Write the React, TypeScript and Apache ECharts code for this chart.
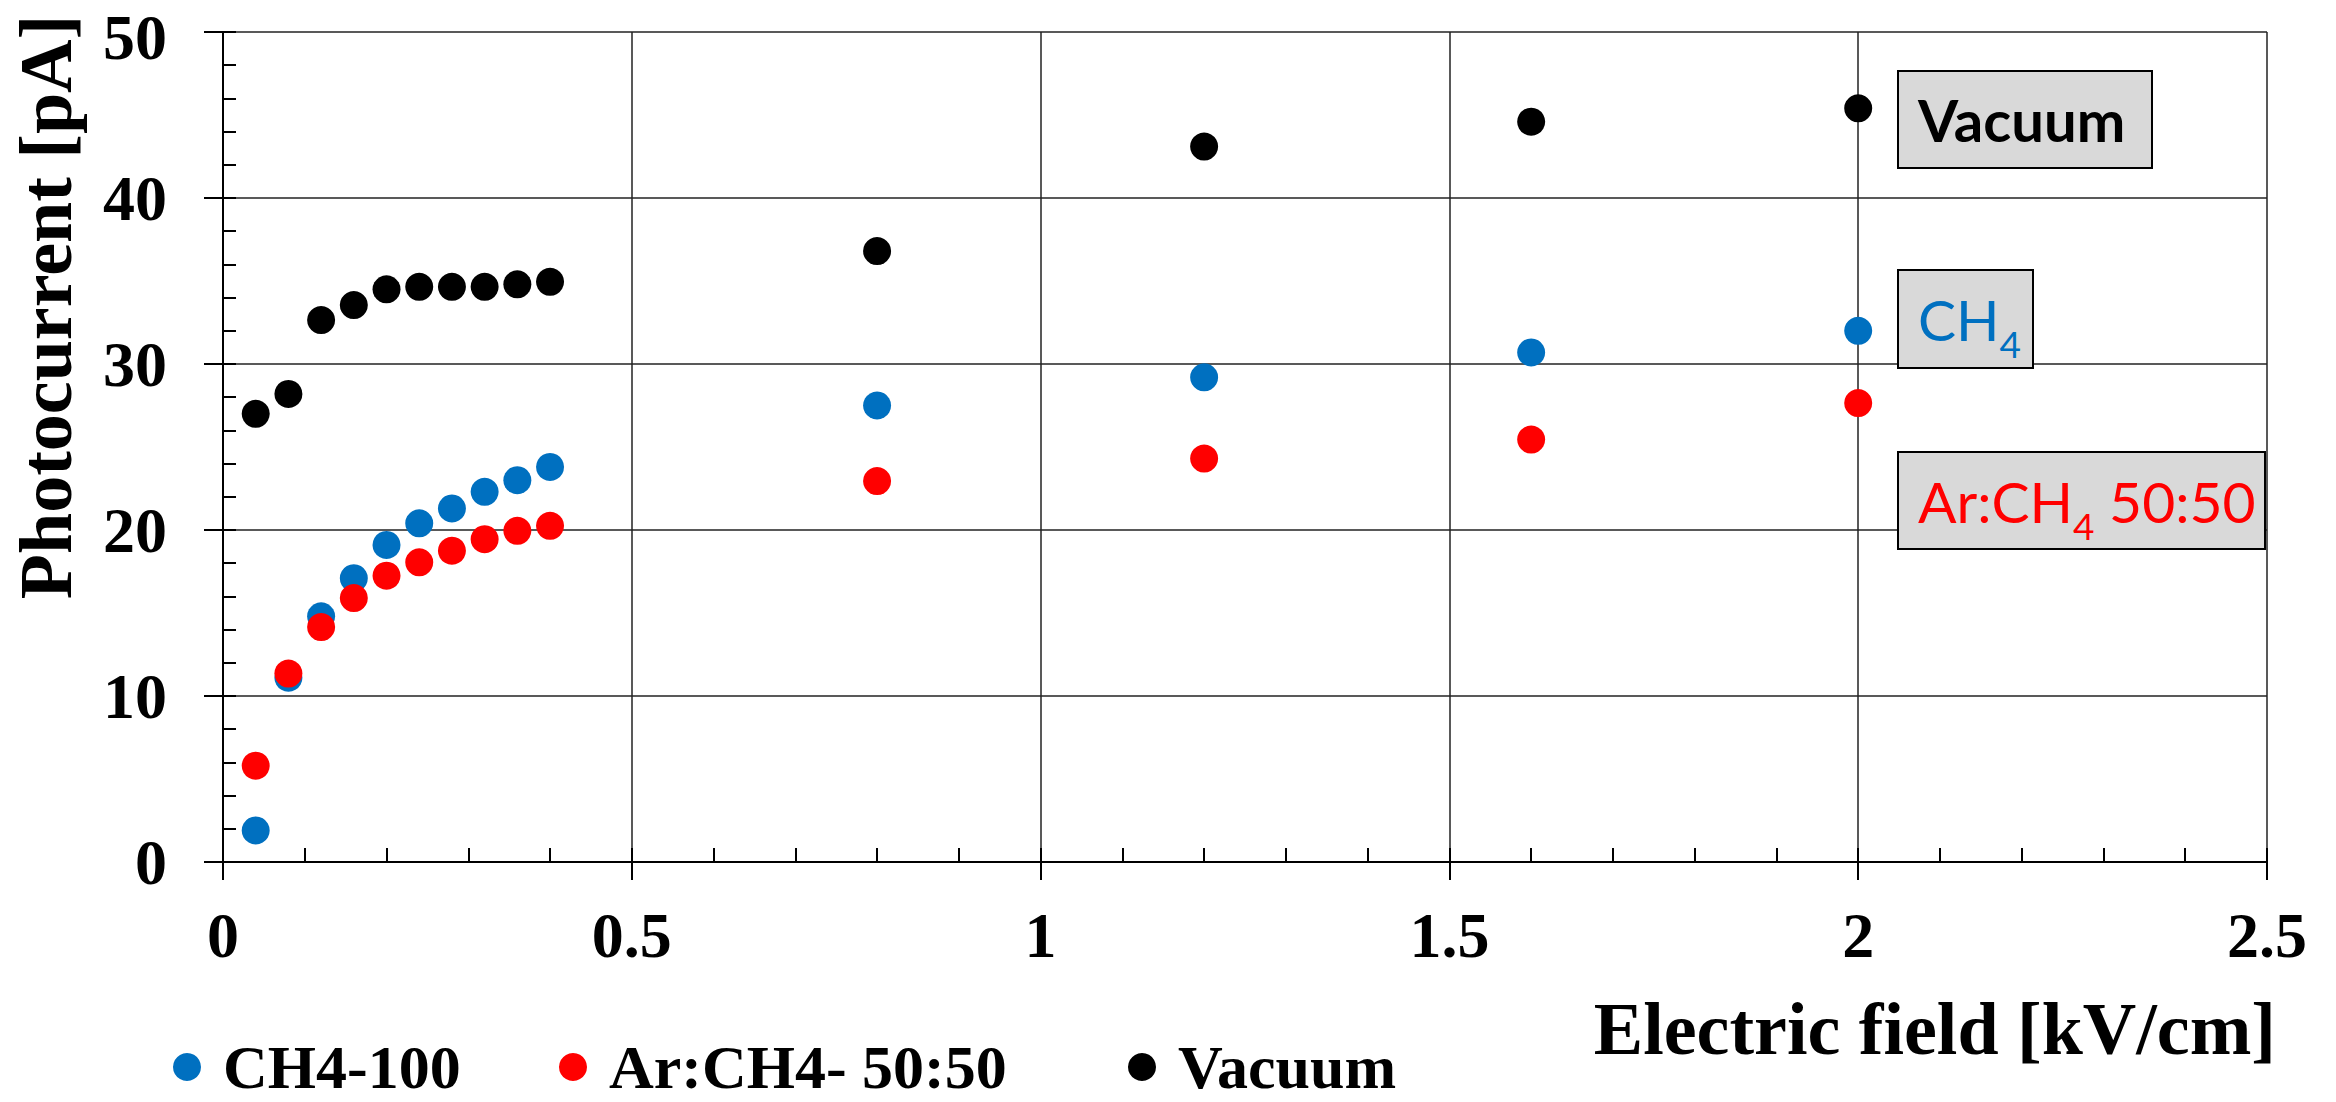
import React, { useEffect, useRef } from 'react';
import * as echarts from 'echarts';

// Electric field values [kV/cm] at which photocurrent was measured
const fieldKVcm = [0.04, 0.08, 0.12, 0.16, 0.2, 0.24, 0.28, 0.32, 0.36, 0.4, 0.8, 1.2, 1.6, 2.0];
// Photocurrent [pA]
const ch4Values = [1.9, 11.1, 14.8, 17.1, 19.1, 20.4, 21.3, 22.3, 23.0, 23.8, 27.5, 29.2, 30.7, 32.0];
const arCh4Values = [5.8, 11.35, 14.15, 15.9, 17.25, 18.05, 18.75, 19.45, 19.95, 20.25, 22.95, 24.3, 25.45, 27.65];
const vacuumValues = [27.0, 28.2, 32.65, 33.55, 34.5, 34.65, 34.65, 34.65, 34.8, 34.95, 36.8, 43.1, 44.6, 45.4];

const seriesNames = ['CH4-100', 'Ar:CH4- 50:50', 'Vacuum'];
const seriesColors = ['#0070C0', '#FF0000', '#000000'];
const seriesValues = [ch4Values, arCh4Values, vacuumValues];

const xAxisTitle = 'Electric field [kV/cm]';
const yAxisTitle = 'Photocurrent [pA]';

const SERIF = '"Liberation Serif", "Times New Roman", serif';
const SANS = 'Lato, "Open Sans", sans-serif';

export default function App() {
  const ref = useRef<HTMLDivElement>(null);

  useEffect(() => {
    if (!ref.current) return;
    const chart = echarts.init(ref.current, undefined, { renderer: 'svg' });

    const tickLabel = { fontFamily: SERIF, fontWeight: 'bold' as const, fontSize: 64, color: '#000' };
    const legendStyle = { fontFamily: SERIF, fontWeight: 'bold' as const, fontSize: 62, color: '#000', padding: [0, 0, 0, 17] };
    const legendLefts = [173, 559, 1128];

    const option: any = {
      animation: false,
      backgroundColor: '#fff',
      grid: { left: 223, top: 32, width: 2044, height: 830, containLabel: false },
      xAxis: [
        {
          type: 'value', min: 0, max: 2.5, interval: 0.5, position: 'bottom',
          axisLine: { show: true, lineStyle: { color: '#000', width: 2 } },
          axisTick: { show: true, inside: false, length: 18, lineStyle: { color: '#000', width: 2 } },
          axisLabel: { ...tickLabel, margin: 41 },
          splitLine: { show: true, lineStyle: { color: '#222', width: 1.5 } },
        },
        {
          type: 'value', min: 0, max: 2.5, interval: 0.1, position: 'bottom',
          axisLine: { show: false },
          axisTick: { show: true, inside: true, length: 14, lineStyle: { color: '#000', width: 2 } },
          axisLabel: { show: false },
          splitLine: { show: false },
        },
      ],
      yAxis: [
        {
          type: 'value', min: 0, max: 50, interval: 10, position: 'left',
          axisLine: { show: true, lineStyle: { color: '#000', width: 2 } },
          axisTick: { show: true, inside: false, length: 19, lineStyle: { color: '#000', width: 2 } },
          axisLabel: {
            ...tickLabel,
            margin: 56,
            formatter: (v: number) => (v === 50 ? `{top|${v}}` : `${v}`),
            rich: { top: { ...tickLabel, padding: [10, 0, 0, 0] } },
          },
          splitLine: { show: true, lineStyle: { color: '#222', width: 1.5 } },
        },
        {
          type: 'value', min: 0, max: 50, interval: 2, position: 'left',
          axisLine: { show: false },
          axisTick: { show: true, inside: true, length: 13, lineStyle: { color: '#000', width: 2 } },
          axisLabel: { show: false },
          splitLine: { show: false },
        },
      ],
      legend: seriesNames.map((name, i) => ({
        data: [name],
        left: legendLefts[i],
        top: 1036,
        padding: 0,
        itemWidth: 28,
        itemHeight: 28,
        icon: 'circle',
        selectedMode: false,
        textStyle: legendStyle,
      })),
      series: seriesNames.map((name, i) => ({
        name,
        type: 'scatter',
        xAxisIndex: 0,
        yAxisIndex: 0,
        symbol: 'circle',
        symbolSize: 28,
        itemStyle: { color: seriesColors[i], opacity: 1 },
        data: fieldKVcm.map((x, j) => [x, seriesValues[i][j]]),
        z: 3 + i,
      })),
      graphic: [
        {
          type: 'text', x: 46, y: 307, rotation: Math.PI / 2, z: 100,
          style: { text: yAxisTitle, font: `bold 74px ${SERIF}`, fill: '#000', align: 'center', verticalAlign: 'middle' },
        },
        {
          type: 'text', x: 2276, y: 1029, z: 100,
          style: { text: xAxisTitle, font: `bold 74px ${SERIF}`, fill: '#000', align: 'right', verticalAlign: 'middle' },
        },
        {
          type: 'rect', z: 100, shape: { x: 1898, y: 71, width: 254, height: 97 },
          style: { fill: '#D9D9D9', stroke: '#000', lineWidth: 2 },
        },
        {
          type: 'text', x: 1918, y: 119.5, z: 101,
          style: { text: 'Vacuum', font: `bold 58px ${SANS}`, fill: '#000', align: 'left', verticalAlign: 'middle' },
        },
        {
          type: 'rect', z: 100, shape: { x: 1898, y: 270, width: 135, height: 98 },
          style: { fill: '#D9D9D9', stroke: '#000', lineWidth: 2 },
        },
        {
          type: 'text', x: 1918, y: 319, z: 101,
          style: {
            text: '{a|CH}{b|4}', align: 'left', verticalAlign: 'middle',
            rich: {
              a: { fontFamily: SANS, fontSize: 57, fill: '#0070C0', lineHeight: 86, verticalAlign: 'middle' },
              b: { fontFamily: SANS, fontSize: 37, fill: '#0070C0', lineHeight: 37, verticalAlign: 'bottom' },
            },
          },
        },
        {
          type: 'rect', z: 100, shape: { x: 1898, y: 452, width: 367, height: 97 },
          style: { fill: '#D9D9D9', stroke: '#000', lineWidth: 2 },
        },
        {
          type: 'text', x: 1918, y: 500.5, z: 101,
          style: {
            text: '{a|Ar:CH}{b|4}{a| 50:50}', align: 'left', verticalAlign: 'middle',
            rich: {
              a: { fontFamily: SANS, fontSize: 57, fill: '#FF0000', lineHeight: 86, verticalAlign: 'middle' },
              b: { fontFamily: SANS, fontSize: 37, fill: '#FF0000', lineHeight: 37, verticalAlign: 'bottom' },
            },
          },
        },
      ],
    };

    chart.setOption(option);
    return () => chart.dispose();
  }, []);

  return (
    <div
      ref={ref}
      style={{ position: 'fixed', left: 0, top: 0, width: 2336, height: 1102, background: '#fff' }}
    />
  );
}
